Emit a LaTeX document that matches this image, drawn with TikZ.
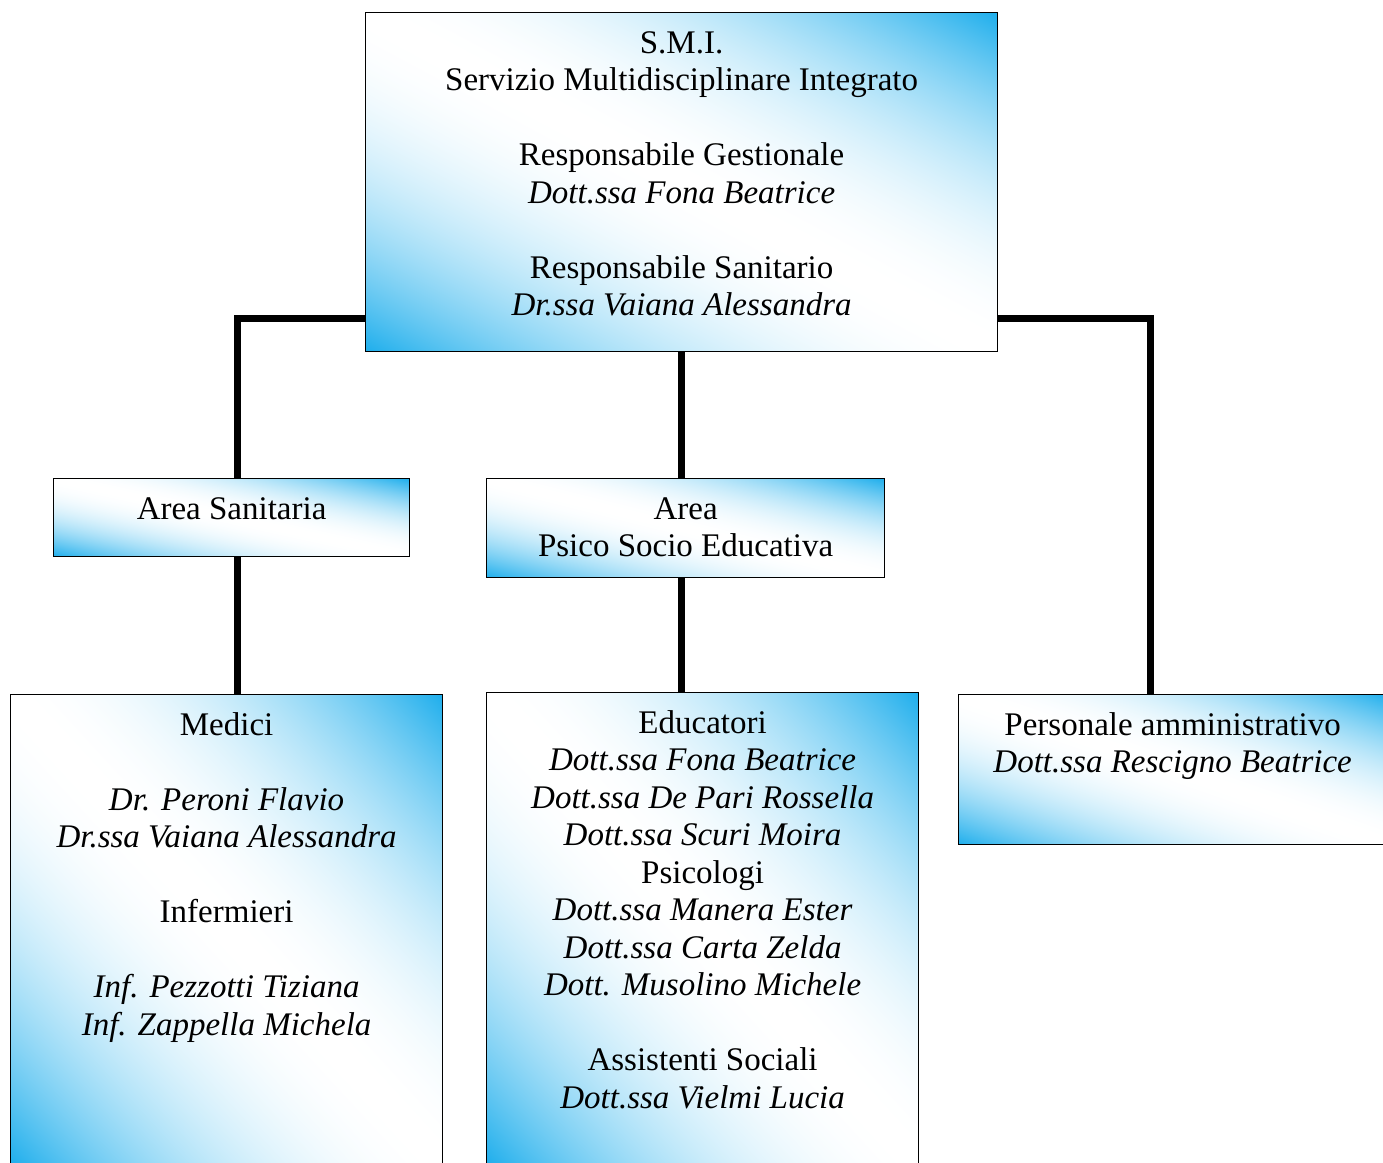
\documentclass[tikz,border=0pt]{standalone}
\usepackage{fontspec}
\setmainfont{Liberation Serif}
\usetikzlibrary{positioning}
\definecolor{smiblue}{RGB}{30,174,236}
\newcommand{\orgfont}{\fontsize{33}{37.5}\selectfont}
% blue in two corners, white along the other diagonal
\pgfdeclarefunctionalshading{smidiag}{\pgfpointorigin}{\pgfpoint{100bp}{100bp}}{}{
  add 100 sub 50 div abs dup 1 gt {pop 1} if
  dup mul
  dup 0.882 mul 1 exch sub exch
  dup 0.318 mul 1 exch sub exch
  0.075 mul 1 exch sub}

\begin{document}
\begin{tikzpicture}[x=1pt,y=-1pt,
    unit box/.style={draw=black,line width=1.2pt,rectangle,inner sep=0pt,anchor=north west,shading=smidiag},
    unit text/.style={align=center,inner sep=0pt,font=\orgfont},
    link/.style={line width=7pt,black}]
\useasboundingbox (0,0) rectangle (1383,1162);

% boxes
\node[unit box,minimum width=632pt,minimum height=339pt] (smi) at (365,12)  {};
\node[unit box,minimum width=356pt,minimum height=78pt]  (san) at (53,478)  {};
\node[unit box,minimum width=398pt,minimum height=99pt]  (pse) at (486,478) {};
\node[unit box,minimum width=432pt,minimum height=470pt] (med) at (10,694)  {};
\node[unit box,minimum width=432pt,minimum height=472pt] (edu) at (486,692) {};
\node[unit box,minimum width=432pt,minimum height=150pt] (adm) at (958,694) {};

% texts
\node[unit text,below=14.75pt of smi.north] (smit) {\strut S.M.I.\\ Servizio Multidisciplinare Integrato\\[37.5pt]
    Responsabile Gestionale\\ \textit{Dott.ssa Fona Beatrice}\\[37.5pt]
    Responsabile Sanitario\\ \textit{Dr.ssa Vaiana Alessandra}};
\node[unit text,below=14.75pt of san.north] (sant) {\strut Area Sanitaria};
\node[unit text,below=14.75pt of pse.north] (pset) {\strut Area\\ Psico Socio Educativa};
\node[unit text,below=14.75pt of med.north] (medt) {\strut Medici\\[37.5pt]
    \textit{Dr. Peroni Flavio}\\ \textit{Dr.ssa Vaiana Alessandra}\\[37.5pt]
    Infermieri\\[37.5pt]
    \textit{Inf. Pezzotti Tiziana}\\ \textit{Inf. Zappella Michela}};
\node[unit text,below=14.75pt of edu.north] (edut) {\strut Educatori\\ \textit{Dott.ssa Fona Beatrice}\\
    \textit{Dott.ssa De Pari Rossella}\\ \textit{Dott.ssa Scuri Moira}\\
    Psicologi\\ \textit{Dott.ssa Manera Ester}\\ \textit{Dott.ssa Carta Zelda}\\
    \textit{Dott. Musolino Michele}\\[37.5pt]
    Assistenti Sociali\\ \textit{Dott.ssa Vielmi Lucia}};
\node[unit text,below=14.75pt of adm.north,xshift=-2pt] (admt) {\strut Personale amministrativo\\ \textit{Dott.ssa Rescigno Beatrice}};

% connectors
\coordinate (lk) at (237,318);
\coordinate (rk) at (1150,318);
\draw[link] (smi.west |- lk) -- (lk) -- (lk |- san.north);
\draw[link] (lk |- san.south) -- (lk |- med.north);
\draw[link] (smi.south) -- (smi.south |- pse.north);
\draw[link] (smi.south |- pse.south) -- (smi.south |- edu.north);
\draw[link] (smi.east |- rk) -- (rk) -- (rk |- adm.north);
\end{tikzpicture}
\end{document}
